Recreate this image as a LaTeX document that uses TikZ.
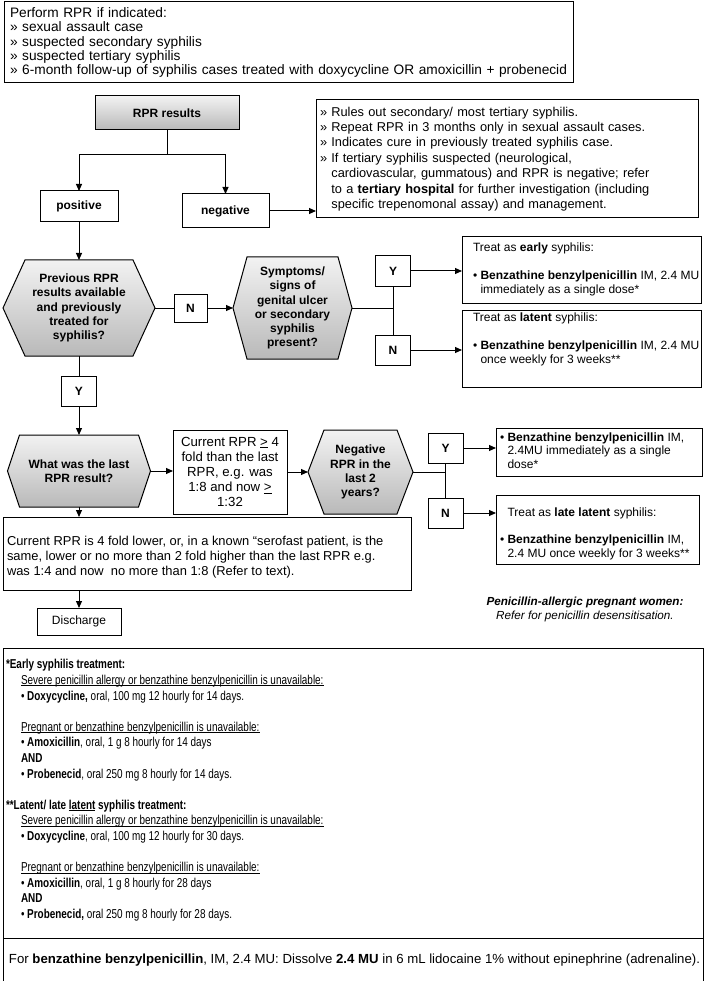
\documentclass[tikz,border=0pt]{standalone}
\usepackage{fontspec}
\setmainfont{Liberation Sans}
\newfontfamily\narrowfont[FakeStretch=0.77]{Liberation Sans}
\usetikzlibrary{arrows.meta,backgrounds,calc}
\newcommand\mainsz{\fontsize{13.2}{15.2}\selectfont}
\newcommand\bfsmall{\fontsize{12}{14.2}\selectfont\bfseries}
\newcommand\trsz{\fontsize{12}{14}\selectfont}
\newcommand\myul[1]{\setbox0\hbox{#1}\rlap{\rule[-1.7pt]{\wd0}{0.7pt}}\box0\relax}
\newcommand\hexbg[2]{%
  \path[hexfill] ([xshift=#2]#1.north west) -- ([xshift=-#2]#1.north east) -- (#1.east)
    -- ([xshift=-#2]#1.south east) -- ([xshift=#2]#1.south west) -- (#1.west) -- cycle;}
\begin{document}
\begin{tikzpicture}[x=1pt,y=-1pt,line width=1pt,
  every node/.style={inner sep=0pt,outer sep=0pt},
  box/.style={draw,line width=1pt,fill=white,align=left,inner xsep=5pt,inner ysep=3pt},
  frame/.style={draw,line width=1pt,fill=white},
  cbox/.style={draw,line width=1pt,fill=white,align=center},
  gbox/.style={draw,line width=1pt,top color=gray!10,bottom color=gray!55,align=center,font=\bfsmall},
  yn/.style={draw,line width=1pt,fill=white,minimum width=35pt,minimum height=30pt,font=\bfsmall},
  hexfill/.style={draw,line width=1pt,top color=gray!10,bottom color=gray!55},
  hext/.style={align=center,font=\bfsmall},
  ttext/.style={anchor=north west,align=left,font=\trsz},
  arr/.style={-{Triangle[length=7pt,width=6pt]}}]
\useasboundingbox (0,0) rectangle (706,981);

% top box
\node[box,anchor=north west,minimum width=569pt,minimum height=81pt,text width=557pt,inner xsep=6pt,font=\fontsize{13.7}{14.3}\selectfont] (top) at (4,2)
 {Perform RPR if indicated:\\
  » sexual assault case\\
  » suspected secondary syphilis\\
  » suspected tertiary syphilis\\
  » 6-month follow-up of syphilis cases treated with doxycycline OR amoxicillin + probenecid};

% RPR results
\node[gbox,minimum width=144pt,minimum height=34pt] (rpr) at (167,113) {RPR results};
\node[cbox,minimum width=78pt,minimum height=31pt,font=\bfsmall] (pos) at (79,206.5) {positive};
\node[cbox,minimum width=87pt,minimum height=34pt,font=\bfsmall] (neg) at (225.5,211) {negative};
\node[box,minimum width=382pt,minimum height=118pt,text width=374pt,inner xsep=4pt,font=\fontsize{12.8}{15.4}\selectfont] (info) at (507,159)
 {» Rules out secondary/ most tertiary syphilis.\\
  » Repeat RPR in 3 months only in sexual assault cases.\\
  » Indicates cure in previously treated syphilis case.\\
  » If tertiary syphilis suspected (neurological,\\
  \phantom{» }cardiovascular, gummatous) and RPR is negative; refer\\
  \phantom{» }to a \textbf{tertiary hospital} for further investigation (including\\
  \phantom{» }specific trepenomonal assay) and management.};

\coordinate (split) at (167,155);
\draw (rpr.south) -- (split);
\draw[arr] (split) -| (pos.north);
\draw[arr] (split) -| (neg.north);
\draw[arr] (neg.east) -- (neg.east -| info.west);

% hexagon 1
\node[hext,minimum width=152pt,minimum height=96pt] (h1) at (79,308)
 {Previous RPR\\results available\\and previously\\treated for\\syphilis?};
\draw[arr] (pos.south) -- (h1.north);
\node[yn,minimum width=33pt,minimum height=28pt] (n1) at (190.5,308) {N};
\node[hext,minimum width=119pt,minimum height=102pt] (h2) at (292.5,308)
 {Symptoms/\\signs of\\genital ulcer\\or secondary\\syphilis\\present?};
\draw (h1.east) -- (n1.west);
\draw[arr] (n1.east) -- (h2.west);
\node[yn] (y2) at (393,271) {Y};
\node[yn] (n2) at (393,350) {N};
\coordinate (j2) at (393,308);
\draw (h2.east) -- (j2);
\draw (y2.south) -- (n2.north);

\node[frame,minimum width=239pt,minimum height=66pt] (early) at (581.5,270) {};
\node[ttext] (earlyt) at (473,243.3)
 {Treat as \textbf{early} syphilis:\\[14pt]
  • \textbf{Benzathine benzylpenicillin} IM, 2.4 MU\\
  \phantom{• }immediately as a single dose*};
\node[frame,minimum width=239pt,minimum height=77pt] (latent) at (581.5,348.5) {};
\node[ttext] (latentt) at (473,313.3)
 {Treat as \textbf{latent} syphilis:\\[14pt]
  • \textbf{Benzathine benzylpenicillin} IM, 2.4 MU\\
  \phantom{• }once weekly for 3 weeks**};
\draw[arr] (y2.east) -- (y2.east -| early.west);
\draw[arr] (n2.east) -- (n2.east -| latent.west);

% Y under hexagon 1
\node[yn] (y1) at (79,391.5) {Y};
\draw (h1.south) -- (y1.north);

% hexagon 3
\node[hext,minimum width=143pt,minimum height=72pt] (h3) at (79,471) {What was the last\\RPR result?};
\draw[arr] (y1.south) -- (h3.north);
\node[cbox,minimum width=114pt,minimum height=84pt,font=\mainsz] (cur) at (230,472)
 {Current RPR \underline{>} 4\\fold than the last\\RPR, e.g. was\\1:8 and now \underline{>}\\1:32};
\draw[arr] (h3.east) -- (h3.east -| cur.west);
\node[hext,minimum width=105pt,minimum height=84pt] (h4) at (360.5,472) {Negative\\RPR in the\\last 2\\years?};
\draw[arr] (cur.east) -- (h4.west);
\node[yn] (y3) at (445.5,448) {Y};
\node[yn] (n3) at (445.5,513) {N};
\coordinate (j3) at (445.5,472);
\draw (h4.east) -- (j3);
\draw (y3.south) -- (n3.north);

\node[frame,minimum width=206pt,minimum height=48pt] (dose) at (599,452) {};
\node[ttext,font=\fontsize{12}{13.5}\selectfont] (doset) at (500,432.5)
 {• \textbf{Benzathine benzylpenicillin} IM,\\
  \phantom{• }2.4MU immediately as a single\\
  \phantom{• }dose*};
\node[frame,minimum width=203pt,minimum height=69pt] (late) at (597.5,529.5) {};
\node[ttext] (latet) at (500,507.3)
 {\phantom{• }Treat as \textbf{late latent} syphilis:\\[13pt]
  • \textbf{Benzathine benzylpenicillin} IM,\\
  \phantom{• }2.4 MU once weekly for 3 weeks**};
\draw[arr] (y3.east) -- (y3.east -| dose.west);
\draw[arr] (n3.east) -- (n3.east -| late.west);

\node[align=center,font=\fontsize{11.7}{14}\selectfont] (pen) at (585,609)
 {\textbf{\textit{Penicillin-allergic pregnant women:}}\\\textit{Refer for penicillin desensitisation.}};

% big box and discharge
\node[frame,minimum width=408pt,minimum height=73pt] (big) at (207,553.5) {};
\node[anchor=north west,align=left,font=\fontsize{12.9}{14.8}\selectfont] (bigt) at (7,536.4)
 {Current RPR is 4 fold lower, or, in a known “serofast patient, is the\\
  same, lower or no more than 2 fold higher than the last RPR e.g.\\
  was 1:4 and now \ no more than 1:8 (Refer to text).};
\draw[arr] (h3.south) -- (h3.south |- big.north);
\node[cbox,minimum width=84pt,minimum height=27pt,font=\trsz] (dis) at (79,621.5) {Discharge};
\draw[arr] (dis.north |- big.south) -- (dis.north);

% footnotes
\node[draw,line width=1pt,anchor=north west,minimum width=700pt,minimum height=290pt] (foot) at (3,648) {};
\node[anchor=north west,align=left,font=\narrowfont\fontsize{12.9}{15.6}\selectfont] (foott) at (6,659.5)
 {\textbf{*Early syphilis treatment:}\\
  \hspace*{15pt}\myul{Severe penicillin allergy or benzathine benzylpenicillin is unavailable:}\\
  \hspace*{15pt}• \textbf{Doxycycline,} oral, 100 mg 12 hourly for 14 days.\\[15.6pt]
  \hspace*{15pt}\myul{Pregnant or benzathine benzylpenicillin is unavailable:}\\
  \hspace*{15pt}• \textbf{Amoxicillin}, oral, 1 g 8 hourly for 14 days\\
  \hspace*{15pt}\textbf{AND}\\
  \hspace*{15pt}• \textbf{Probenecid}, oral 250 mg 8 hourly for 14 days.\\[15.6pt]
  \textbf{**Latent/ late \myul{latent} syphilis treatment:}\\
  \hspace*{15pt}\myul{Severe penicillin allergy or benzathine benzylpenicillin is unavailable:}\\
  \hspace*{15pt}• \textbf{Doxycycline}, oral, 100 mg 12 hourly for 30 days.\\[15.6pt]
  \hspace*{15pt}\myul{Pregnant or benzathine benzylpenicillin is unavailable:}\\
  \hspace*{15pt}• \textbf{Amoxicillin}, oral, 1 g 8 hourly for 28 days\\
  \hspace*{15pt}\textbf{AND}\\
  \hspace*{15pt}• \textbf{Probenecid,} oral 250 mg 8 hourly for 28 days.};
\node[draw,line width=1pt,anchor=north west,minimum width=700pt,minimum height=60pt] (lastb) at (3,938) {};
\node[anchor=west,font=\fontsize{13.2}{15}\selectfont] (lastt) at (9,960)
 {For \textbf{benzathine benzylpenicillin}, IM, 2.4 MU: Dissolve \textbf{2.4 MU} in 6 mL lidocaine 1\% without epinephrine (adrenaline).};

\begin{scope}[on background layer]
  \hexbg{h1}{22pt}
  \hexbg{h2}{14pt}
  \hexbg{h3}{12pt}
  \hexbg{h4}{16pt}
\end{scope}
\end{tikzpicture}
\end{document}
